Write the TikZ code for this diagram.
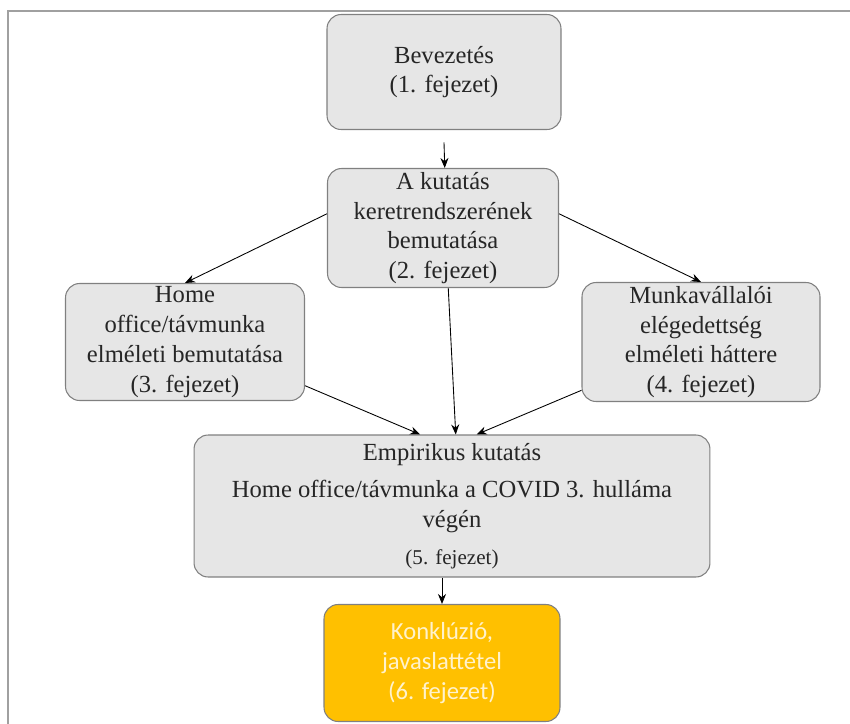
\documentclass[tikz,border=0pt]{standalone}
\usepackage{fontspec}
\setmainfont{Liberation Serif}
\newfontfamily\konklfont{Carlito}
\usetikzlibrary{arrows.meta, positioning}
\definecolor{boxgray}{HTML}{E6E6E6}
\definecolor{edgegray}{HTML}{808080}
\definecolor{konklorange}{HTML}{FFC000}
\definecolor{konkltext}{HTML}{FFF2CC}
\definecolor{framegray}{HTML}{A0A0A0}

\begin{document}
\begin{tikzpicture}[
  x=0.02cm, y=-0.02cm,
  box/.style={draw=edgegray, fill=boxgray, rounded corners=8pt, line width=0.6pt, inner sep=0pt, align=center, text=black!85, font=\fontsize{14}{17}\selectfont},
  konkl/.style={box, fill=konklorange, text=konkltext, font=\konklfont\fontsize{14}{17}\selectfont},
  arrow/.style={-{Stealth[length=2mm, width=1.6mm]}, line width=0.5pt}
]
\useasboundingbox (0,0) rectangle (850,724);

% Frame
\draw[framegray, line width=1.2pt] (8,760) -- (8,11) -- (880,11);

% Chapters
\node[box, minimum width=4.68cm, minimum height=2.3cm] (bev) at (444,72) {Bevezetés\\(1. fejezet)};
\node[box, minimum width=4.62cm, minimum height=2.38cm] (kut) at (443,228) {A kutatás\\keretrendszerének\\bemutatása\\(2. fejezet)};
\node[box, minimum width=4.78cm, minimum height=2.34cm] (home) at (185,342) {Home\\office/távmunka\\elméleti bemutatása\\(3. fejezet)};
\node[box, minimum width=4.76cm, minimum height=2.38cm] (munka) at (701,342) {Munkavállalói\\elégedettség\\elméleti háttere\\(4. fejezet)};
\node[box, minimum width=10.32cm, minimum height=2.84cm] (emp) at (452,506) {Empirikus kutatás\\[4pt]Home office/távmunka a COVID 3. hulláma\\végén\\[4pt]{\fontsize{12}{14}\selectfont(5. fejezet)}};
\node[konkl, minimum width=4.72cm, minimum height=2.34cm] (konkl) at (442,663) {Konklúzió,\\javaslattétel\\(6. fejezet)};

% Connectors
\coordinate (bevgap) at ([yshift=-7pt]bev.south);
\draw[arrow] (bevgap) -- ([xshift=1pt]kut.north);
\draw[arrow] (kut.173) -- (home.north);
\draw[arrow] (kut.7) -- (munka.north);
\draw[arrow] (kut.-85) -- (emp.87);
\draw[arrow] (home.-20) -- (emp.114);
\draw[arrow] (munka.202) -- (emp.71);
\draw[arrow] (konkl.north |- emp.south) -- (konkl.north);

\end{tikzpicture}
\end{document}
